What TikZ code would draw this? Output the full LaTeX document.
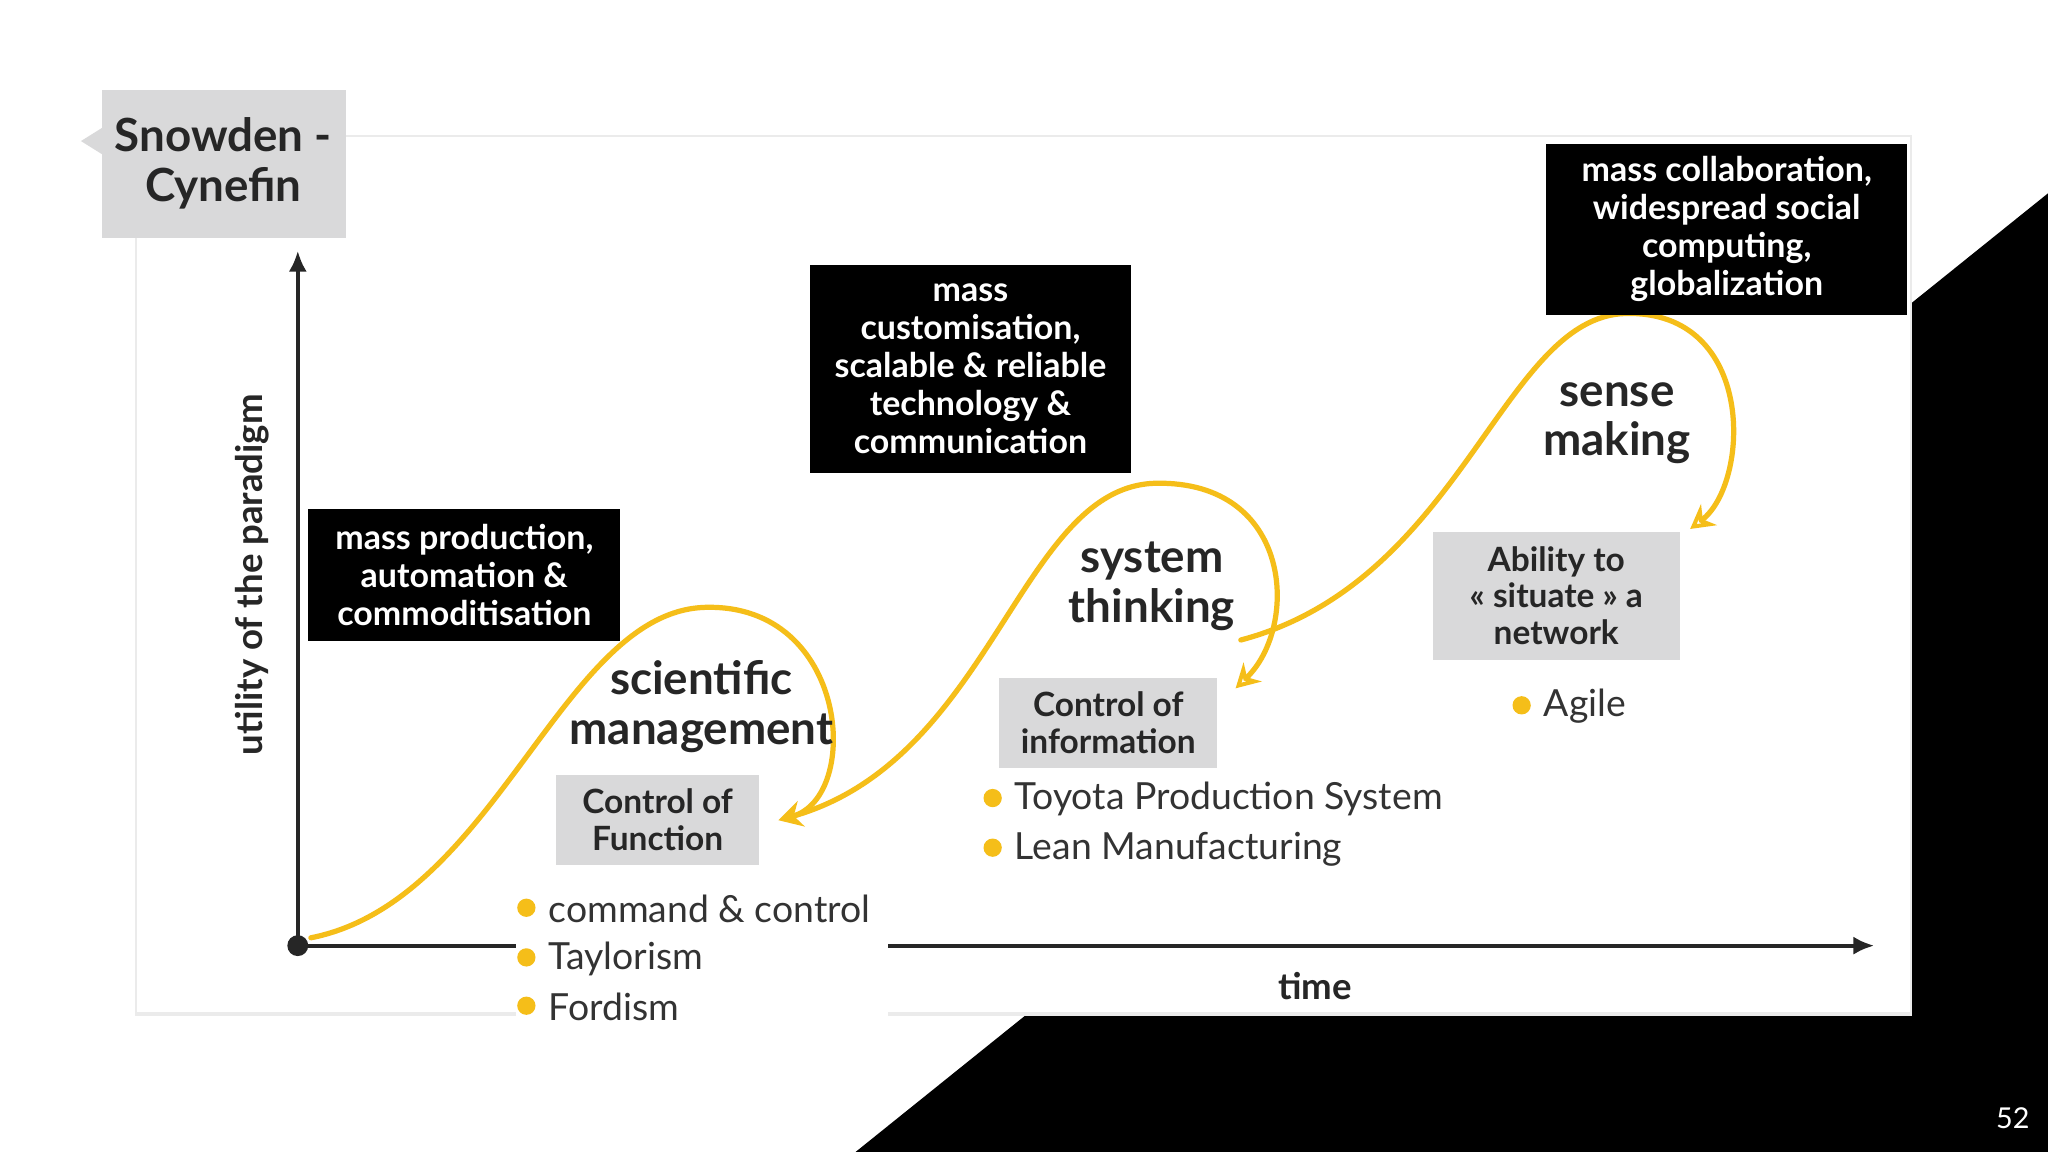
\documentclass[tikz,border=0pt]{standalone}
\usepackage{fontspec}
\setmainfont{Lato}
\usetikzlibrary{arrows.meta}
\definecolor{ylw}{HTML}{F5BE19}
\definecolor{gbox}{HTML}{D9D9DA}
\tikzset{
 blk/.style={fill=black,text=white,align=center,font=\fontsize{13}{14.5}\selectfont\bfseries,inner sep=0pt},
 gry/.style={fill=gbox,text=black!85,align=center,font=\fontsize{12.8}{14}\selectfont\bfseries,inner sep=0pt},
 lbl/.style={align=center,font=\fontsize{17.5}{19}\selectfont\bfseries,text=black!85},
 bul/.style={anchor=west,font=\fontsize{14.3}{15}\selectfont,text=black!80},
 dot/.style={circle,fill=ylw,inner sep=0pt,minimum size=7pt},
 crv/.style={ylw,line width=2pt,line cap=round,-{Stealth[length=9pt,width=10pt,open]}}
}
\begin{document}
\begin{tikzpicture}[x=0.5pt,y=-0.5pt]
\fill[white] (0,0) rectangle (1568,882);
\useasboundingbox (0,0) rectangle (1568,882);
\fill[black] (655,882) -- (1568,148) -- (1568,882) -- cycle;
\fill[black!8] (103,103) rectangle (1464,778);
\fill[white] (105,105) rectangle (1462,775);
% title
\fill[gbox] (78,69) rectangle (265,182);
\fill[gbox] (78,98) -- (62,108) -- (78,118) -- cycle;
\node[font=\fontsize{17.5}{19}\selectfont\bfseries,align=center,text=black!85] (title) at (171,125) {Snowden -\\Cynefin};
% axes
\coordinate (o) at (228,724);
\coordinate (yt) at (228,192);
\coordinate (xt) at (1435,724);
\draw[line width=1.6pt,black!85,-{Latex[length=8pt,width=7pt]}] (o) -- (yt);
\draw[line width=1.6pt,black!85,-{Latex[length=8pt,width=7pt]}] (o) -- (xt);
\fill[black!85] (o) circle (4pt);
\fill[white] (395,680) rectangle (680,790);
\node[rotate=90,font=\fontsize{14}{15}\selectfont\bfseries,text=black!85] (ylab) at (193,440) {utility of the paradigm};
\node[font=\fontsize{14}{15}\selectfont\bfseries,text=black!85] (xlab) at (1007,755) {time};
% curves
\draw[crv] (238,718) .. controls (380,690) and (430,468) .. (540,465) .. controls (650,462) and (660,610) .. (596,628);
\draw[crv] (603,626) .. controls (760,585) and (780,372) .. (885,370) .. controls (990,368) and (995,480) .. (946,527);
\draw[crv] (950,490) .. controls (1120,445) and (1150,242) .. (1245,240) .. controls (1345,238) and (1340,370) .. (1294,405);
% black boxes
\node[blk,minimum width=239pt*0.5,minimum height=101pt*0.5] (b1) at (355.5,440.5) {mass production,\\automation \&\\commoditisation};
\node[blk,minimum width=246pt*0.5,minimum height=159pt*0.5] (b2) at (743,282.5) {mass\\customisation,\\scalable \& reliable\\technology \&\\communication};
\node[blk,minimum width=276pt*0.5,minimum height=131pt*0.5] (b3) at (1322,175.5) {mass collaboration,\\widespread social\\computing,\\globalization};
% labels
\node[lbl] (l1) at (537,541) {scientific\\management};
\node[lbl] (l2) at (882,449) {system\\thinking};
\node[lbl] (l3) at (1238,324) {sense\\making};
% gray boxes
\node[gry,minimum width=155pt*0.5,minimum height=69pt*0.5] (g1) at (503.5,627.5) {Control of\\Function};
\node[gry,minimum width=167pt*0.5,minimum height=69pt*0.5] (g2) at (848.5,553.5) {Control of\\information};
\node[gry,minimum width=189pt*0.5,minimum height=98pt*0.5] (g3) at (1191.5,456) {Ability to\\« situate » a\\network};
% bullets
\node[dot] (d1) at (403,695) {}; \node[bul] (t1) at (413,696) {command \& control};
\node[dot] (d2) at (403,733) {}; \node[bul] (t2) at (413,734) {Taylorism};
\node[dot] (d3) at (403,770) {}; \node[bul] (t3) at (413,771) {Fordism};
\node[dot] (d4) at (760,611) {}; \node[bul] (t4) at (770,612) {Toyota Production System};
\node[dot] (d5) at (760,649) {}; \node[bul] (t5) at (770,650) {Lean Manufacturing};
\node[dot] (d6) at (1165,540) {}; \node[bul] (t6) at (1175,541) {Agile};
\node[text=white,font=\fontsize{11}{12}\selectfont] (pg) at (1541,856) {52};
\end{tikzpicture}
\end{document}
